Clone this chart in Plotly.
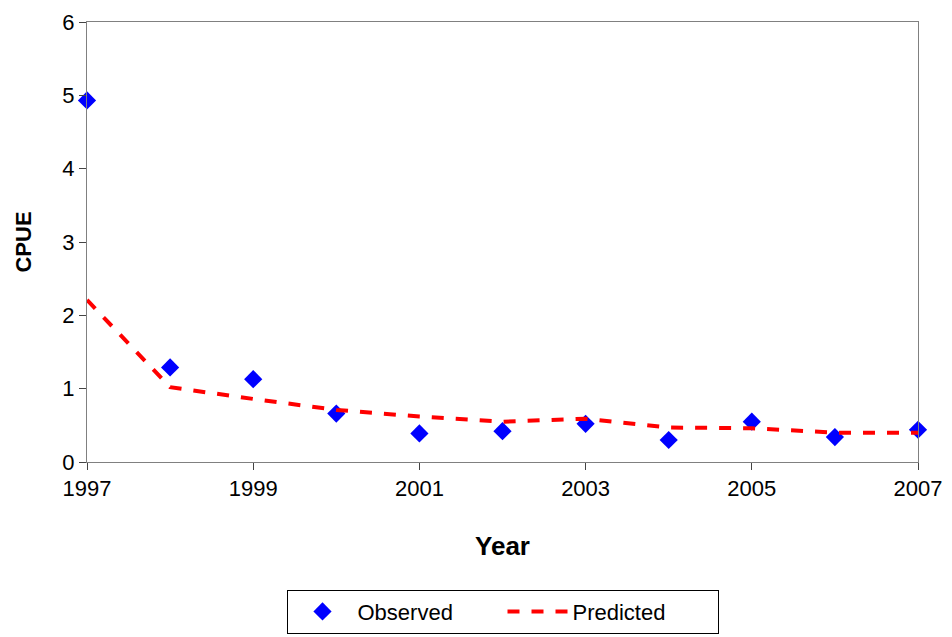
import plotly.graph_objects as go

years = list(range(1997, 2008))
observed = [4.93, 1.29, 1.13, 0.66, 0.39, 0.42, 0.52, 0.30, 0.55, 0.34, 0.44]
predicted = [2.21, 1.02, 0.86, 0.71, 0.62, 0.55, 0.59, 0.47, 0.46, 0.40, 0.40]
xticks = [1997, 1999, 2001, 2003, 2005, 2007]

fig = go.Figure()
fig.add_trace(go.Scatter(x=years, y=observed, mode='markers', name='Observed',
                         marker=dict(symbol='diamond', size=14, color='#0000FF'),
                         cliponaxis=False))
fig.add_trace(go.Scatter(x=years, y=predicted, mode='lines', name='Predicted',
                         line=dict(color='#FF0000', width=4, dash='dash')))

fig.update_layout(
    width=936, height=637, plot_bgcolor='white', paper_bgcolor='white',
    margin=dict(l=79, r=26, t=14, b=174),
    font=dict(family='Liberation Sans, Arial', size=22, color='black'),
    legend=dict(orientation='h', x=0.5, xanchor='center', y=-0.29, yanchor='top',
                bordercolor='black', borderwidth=1, font=dict(size=22),
                entrywidth=140, itemwidth=60),
)
fig.update_xaxes(range=[1997, 2007], tickvals=xticks, ticks='outside', ticklen=7,
                 showgrid=False, showline=True, linecolor='#808080', mirror=True,
                 automargin=False, title=dict(text='<b>Year</b>', standoff=36),
                 zeroline=False)
fig.update_yaxes(range=[0, 6], dtick=1, ticks='outside', ticklen=7,
                 showgrid=False, showline=True, linecolor='#808080', mirror=True,
                 automargin=False,
                 title=dict(text='<b>CPUE</b>', standoff=24, font=dict(size=22)),
                 zeroline=False)
fig.write_html("out.html")
